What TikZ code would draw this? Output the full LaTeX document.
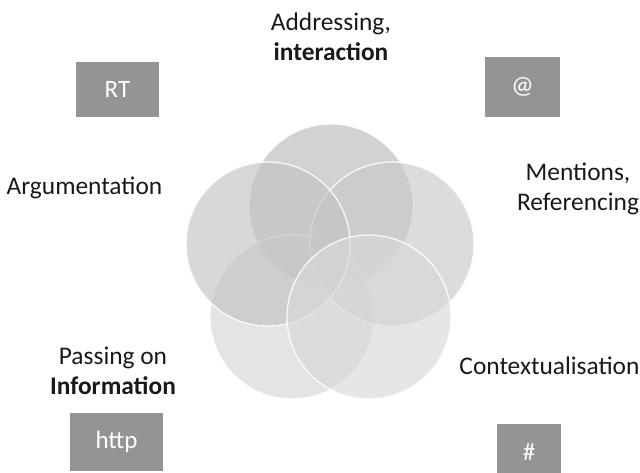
\documentclass[tikz,border=0pt]{standalone}
\usepackage{fontspec}
\setmainfont{Carlito}
\begin{document}
\begin{tikzpicture}[x=1pt,y=-1pt,
  venn/.style={circle,minimum size=164pt,inner sep=0pt,fill opacity=0.65,draw=white,line width=1.3pt,draw opacity=0.85},
  tagbox/.style={fill=black!42,text=white,inner sep=0pt,font=\fontsize{25}{30}\selectfont},
  lab/.style={font=\fontsize{25.4}{30}\selectfont,align=center,text=black!90}]
\useasboundingbox (0,0) rectangle (640,472);
% circles
\node[venn,fill={rgb,255:red,186;green,186;blue,189}] (ctop) at (331,206) {};
\node[venn,fill={rgb,255:red,213;green,213;blue,216}] (cbl) at (292,317) {};
\node[venn,fill={rgb,255:red,201;green,201;blue,204}] (cright) at (392,244) {};
\node[venn,fill={rgb,255:red,195;green,195;blue,198}] (cleft) at (268,244) {};
\node[venn,fill={rgb,255:red,217;green,217;blue,220}] (cbr) at (369,317) {};
% boxes
\node[tagbox,minimum width=83pt,minimum height=55pt] (rt) at (117.5,89.5) {RT};
\node[tagbox,minimum width=75pt,minimum height=60pt] (at) at (522.5,87) {@};
\node[tagbox,minimum width=93pt,minimum height=58pt] (http) at (116.5,442) {http};
\node[tagbox,minimum width=64pt,minimum height=56pt] (hash) at (529,452) {\#};
% labels
\node[lab] (addr) at (331,37) {Addressing,\\\textbf{interaction}};
\node[lab] (arg) at (84.5,188) {Argumentation};
\node[lab] (ment) at (578,189) {Mentions,\\Referencing};
\node[lab] (ctx) at (549.5,366) {Contextualisation};
\node[lab] (pass) at (113,371) {Passing on\\\textbf{Information}};
\end{tikzpicture}
\end{document}
